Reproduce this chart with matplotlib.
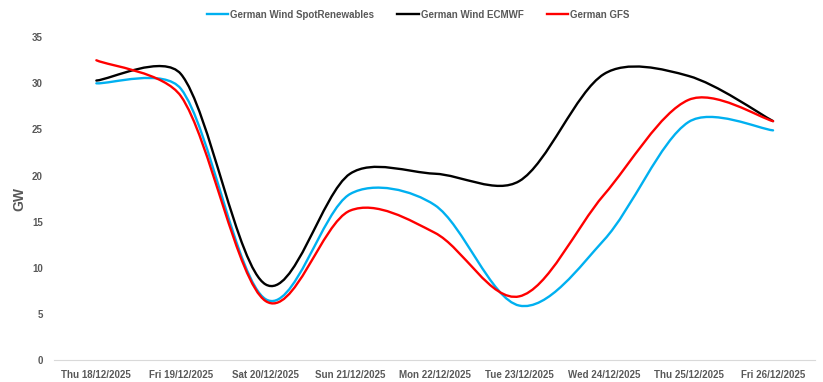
import numpy as np
import matplotlib.pyplot as plt
from matplotlib.path import Path
from matplotlib.patches import PathPatch
from matplotlib.lines import Line2D

days = ['Thu 18/12/2025', 'Fri 19/12/2025', 'Sat 20/12/2025', 'Sun 21/12/2025',
        'Mon 22/12/2025', 'Tue 23/12/2025', 'Wed 24/12/2025', 'Thu 25/12/2025',
        'Fri 26/12/2025']

spot = [30.0, 29.4, 6.6, 18.0, 16.8, 5.9, 13.0, 25.8, 24.9]
ecmwf = [30.3, 31.0, 8.2, 20.2, 20.2, 19.4, 31.0, 30.8, 25.9]
gfs = [32.5, 28.6, 6.4, 16.2, 13.8, 6.9, 17.9, 28.2, 25.9]

series = [('German Wind SpotRenewables', spot, '#00B0F0'),
          ('German Wind ECMWF', ecmwf, '#000000'),
          ('German GFS', gfs, '#FF0000')]

grey = '#595959'
font = 'Liberation Sans'


def smooth_path(x, y, sx, sy, f=1/6, k=0.32):
    # excel-ish smoothed line: cubic bezier, handles capped by segment length (in pixels)
    x = np.asarray(x, float)
    y = np.asarray(y, float)
    n = len(x)
    scale = np.array([sx, sy])
    pts = np.column_stack([x, y])
    verts = [tuple(pts[0])]
    codes = [Path.MOVETO]
    for i in range(n - 1):
        p0 = pts[max(i - 1, 0)]
        p1 = pts[i]
        p2 = pts[i + 1]
        p3 = pts[min(i + 2, n - 1)]
        h1 = (p2 - p0) * f
        h2 = (p3 - p1) * f
        d12 = np.hypot(*((p2 - p1) * scale))
        for h in (h1, h2):
            ln = np.hypot(*(h * scale))
            if ln > k * d12:
                h *= k * d12 / ln
        verts += [tuple(p1 + h1), tuple(p2 - h2), tuple(p2)]
        codes += [Path.CURVE4] * 3
    return Path(verts, codes)


fig = plt.figure(figsize=(8.23, 3.82), dpi=100)
ax = fig.add_axes([0.0657, 0.0576, 0.925, 0.845])

xs = np.arange(len(days))
ax.set_xlim(-0.5, len(days) - 0.5)
ax.set_ylim(0, 35)

bb = ax.get_window_extent()
sx = bb.width / len(days)
sy = bb.height / 35

handles = []
for name, vals, c in series:
    ax.add_patch(PathPatch(smooth_path(xs, vals, sx, sy), fill=False, edgecolor=c,
                           lw=1.7, capstyle='round', joinstyle='round'))
    handles.append(Line2D([], [], color=c, lw=1.7, label=name))

ax.set_xticks(xs)
ax.set_xticklabels(days, fontsize=7, fontweight='bold', color=grey, family=font)
ax.set_yticks(range(0, 36, 5))
ax.set_yticklabels([str(v) for v in range(0, 36, 5)], fontsize=7,
                   fontweight='bold', color=grey, family=font)
ax.tick_params(axis='y', length=0, pad=8)
ax.tick_params(axis='x', length=0, pad=7)
for s in ['top', 'right', 'left']:
    ax.spines[s].set_visible(False)
ax.spines['bottom'].set_color('#d9d9d9')
ax.set_ylabel('GW', fontsize=10, fontweight='bold', color=grey, family=font,
              labelpad=4)

fig.legend(handles=handles, loc='upper center', bbox_to_anchor=(0.508, 0.998),
           ncol=3, frameon=False, handlelength=2.2, columnspacing=2.4,
           handletextpad=0.2, prop={'size': 7, 'weight': 'bold', 'family': font},
           labelcolor=grey)

fig.savefig('out.png', dpi=100)
